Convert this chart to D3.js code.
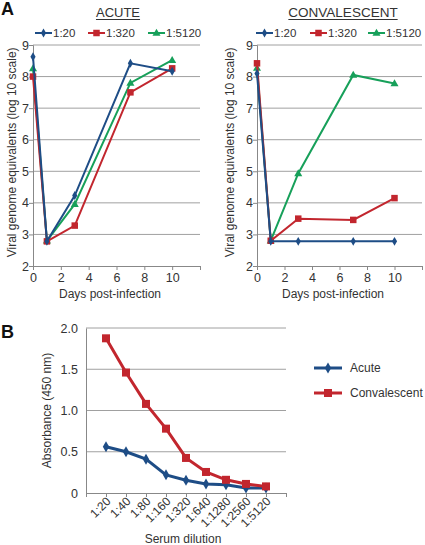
<!DOCTYPE html>
<html><head><meta charset="utf-8">
<script src="https://cdn.jsdelivr.net/npm/d3@7"></script>
<style>body{margin:0;background:#fff}svg{font-family:"Liberation Sans",Arial,sans-serif}</style>
</head><body>
<svg id="c" width="425" height="545"></svg>
<script>
const days = [0, 1, 3, 7, 10];
const dilutionsA = ["1:20", "1:320", "1:5120"];
const acute20 = [8.63, 2.78, 4.23, 8.42, 8.17];
const acute320 = [8.0, 2.78, 3.28, 7.5, 8.26];
const acute5120 = [8.26, 2.8, 3.96, 7.8, 8.52];
const conv20 = [8.1, 2.78, 2.78, 2.78, 2.78];
const conv320 = [8.42, 2.8, 3.5, 3.46, 4.15];
const conv5120 = [8.27, 2.8, 4.93, 8.05, 7.78];
const dayTicks = [0, 2, 4, 6, 8, 10, 12];
const dayTickLabels = ["0", "2", "4", "6", "8", "10", ""];
const logTicks = [2, 3, 4, 5, 6, 7, 8, 9];

const serumDilutions = ["1:20","1:40","1:80","1:160","1:320","1:640","1:1280","1:2560","1:5120"];
const absAcute = [0.56, 0.50, 0.41, 0.22, 0.155, 0.11, 0.10, 0.06, 0.06];
const absConv = [1.875, 1.46, 1.08, 0.78, 0.425, 0.255, 0.16, 0.11, 0.08];
const absTicks = [0, 0.5, 1.0, 1.5, 2.0];
const absTickLabels = ["0", "0.5", "1.0", "1.5", "2.0"];

const BLUE = "#1e4d86", RED = "#c2262e", GREEN = "#17a05a";
const GRID = "#a0a0a0", TXT = "#333";
const svg = d3.select("#c");

function marker(g, type, x, y, s, color) {
  if (type === "diamond") {
    g.append("path").attr("d", d3.symbol(d3.symbolDiamond, s * s * 0.55)()).attr("transform", `translate(${x},${y})`).attr("fill", color);
  } else if (type === "square") {
    g.append("rect").attr("x", x - s / 2).attr("y", y - s / 2).attr("width", s).attr("height", s).attr("fill", color);
  } else {
    g.append("path").attr("d", d3.symbol(d3.symbolTriangle, s * s * 0.5)()).attr("transform", `translate(${x},${y + 0.5})`).attr("fill", color);
  }
}

function panelA(cfg) {
  const x = d3.scaleLinear().domain([0, 12]).range([cfg.x0, cfg.x1]);
  const y = d3.scaleLinear().domain([2, 9]).range([266, 45]);
  const g = svg.append("g");
  g.selectAll("line.grid").data(logTicks.filter(d => d > 2)).join("line")
    .attr("x1", cfg.x0).attr("x2", cfg.x1).attr("y1", d => y(d)).attr("y2", d => y(d))
    .attr("stroke", GRID).attr("stroke-width", 1);
  const ya = g.append("g").attr("transform", `translate(${cfg.x0},0)`)
    .call(d3.axisLeft(y).tickValues(logTicks).tickSize(4).tickFormat(d3.format("d")));
  const xa = g.append("g").attr("transform", `translate(0,${y(2)})`)
    .call(d3.axisBottom(x).tickValues(dayTicks).tickSize(4).tickFormat((d, i) => dayTickLabels[i]));
  [ya, xa].forEach(a => {
    a.select(".domain").attr("stroke", "#888");
    a.selectAll(".tick line").attr("stroke", "#888");
    a.selectAll(".tick text").attr("fill", TXT).attr("font-size", 12.5);
  });
  ya.selectAll(".tick text").attr("x", -4);
  xa.selectAll(".tick text").attr("y", 7);
  g.append("text").attr("transform", `translate(${cfg.ylx},${y(5.6)}) rotate(-90)`)
    .attr("text-anchor", "middle").attr("dy", "0.35em").attr("font-size", 12).attr("fill", TXT)
    .text("Viral genome equivalents (log 10 scale)");
  g.append("text").attr("x", cfg.xlx).attr("y", 298).attr("text-anchor", "middle")
    .attr("font-size", 12).attr("fill", TXT).text("Days post-infection");
  const t = g.append("text").attr("x", cfg.tx).attr("y", 17).attr("text-anchor", "middle")
    .attr("font-size", cfg.tfs).attr("fill", TXT).text(cfg.title);
  const w = t.node().getComputedTextLength();
  g.append("line").attr("x1", cfg.tx - w / 2).attr("x2", cfg.tx + w / 2).attr("y1", 19.5).attr("y2", 19.5)
    .attr("stroke", TXT).attr("stroke-width", 1);
  const series = [
    {v: cfg.s[0], c: BLUE, m: "diamond", s: 6.5},
    {v: cfg.s[1], c: RED, m: "square", s: 6.5},
    {v: cfg.s[2], c: GREEN, m: "triangle", s: 7.5}
  ];
  const line = d3.line().x((d, i) => x(days[i])).y(d => y(d));
  cfg.order.forEach(k => {
    const s = series[k];
    g.append("path").attr("d", line(s.v)).attr("fill", "none").attr("stroke", s.c).attr("stroke-width", 2);
    s.v.forEach((v, i) => marker(g, s.m, x(days[i]), y(v), s.s, s.c));
  });
  series.forEach((s, i) => {
    const lx = cfg.leg[i];
    g.append("line").attr("x1", lx).attr("x2", lx + 17).attr("y1", 33).attr("y2", 33).attr("stroke", s.c).attr("stroke-width", 2);
    marker(g, s.m, lx + 8.5, 33, s.s, s.c);
    g.append("text").attr("x", lx + 18).attr("y", 33).attr("dy", "0.35em").attr("font-size", 11.5).attr("fill", TXT).text(dilutionsA[i]);
  });
}

panelA({x0: 33, x1: 200, ylx: 12, xlx: 110, tx: 118, title: "ACUTE", tfs: 13,
  s: [acute20, acute320, acute5120], order: [2, 1, 0], leg: [35, 88, 148]});
panelA({x0: 257, x1: 422, ylx: 230, xlx: 333, tx: 343, title: "CONVALESCENT", tfs: 13.5,
  s: [conv20, conv320, conv5120], order: [2, 1, 0], leg: [256, 310, 368]});

svg.append("text").attr("x", 1).attr("y", 15).attr("font-size", 18).attr("font-weight", "bold").attr("fill", "#111").text("A");
svg.append("text").attr("x", 1).attr("y", 338).attr("font-size", 18).attr("font-weight", "bold").attr("fill", "#111").text("B");

(function () {
  const x = d3.scaleLinear().domain([0, serumDilutions.length + 1]).range([86, 286]);
  const y = d3.scaleLinear().domain([0, 2]).range([493, 328]);
  const g = svg.append("g");
  g.selectAll("line.grid").data(absTicks.filter(d => d > 0)).join("line")
    .attr("x1", 86).attr("x2", 286).attr("y1", d => y(d)).attr("y2", d => y(d))
    .attr("stroke", GRID).attr("stroke-width", 1);
  const ya = g.append("g").attr("transform", "translate(86,0)")
    .call(d3.axisLeft(y).tickValues(absTicks).tickSize(0).tickFormat((d, i) => absTickLabels[i]));
  ya.select(".domain").attr("stroke", "#888");
  ya.selectAll(".tick text").attr("fill", TXT).attr("font-size", 12.5).attr("x", -8);
  const idx = d3.range(serumDilutions.length + 2);
  const xa = g.append("g").attr("transform", `translate(0,${y(0)})`)
    .call(d3.axisBottom(x).tickValues(idx).tickSize(4).tickFormat(i => serumDilutions[i - 1] || ""));
  xa.select(".domain").attr("stroke", "#888");
  xa.selectAll(".tick line").attr("stroke", "#888");
  xa.selectAll(".tick text").attr("fill", TXT).attr("font-size", 12)
    .attr("text-anchor", "end").attr("dy", 0).attr("y", 0)
    .attr("transform", "translate(5,9) rotate(-45)");
  g.append("text").attr("transform", `translate(47,${y(1)}) rotate(-90)`)
    .attr("text-anchor", "middle").attr("dy", "0.35em").attr("font-size", 12).attr("fill", TXT)
    .text("Absorbance (450 nm)");
  g.append("text").attr("x", 183).attr("y", 543).attr("text-anchor", "middle")
    .attr("font-size", 12).attr("fill", TXT).text("Serum dilution");
  const line = d3.line().x((d, i) => x(i + 1)).y(d => y(d));
  const series = [
    {v: absAcute, c: BLUE, m: "diamond", s: 8, name: "Acute"},
    {v: absConv, c: RED, m: "square", s: 8, name: "Convalescent"}
  ];
  series.forEach(s => {
    g.append("path").attr("d", line(s.v)).attr("fill", "none").attr("stroke", s.c).attr("stroke-width", 3);
    s.v.forEach((v, i) => marker(g, s.m, x(i + 1), y(v), s.s, s.c));
  });
  series.forEach((s, i) => {
    const ly = 368 + i * 25;
    g.append("line").attr("x1", 314).attr("x2", 342).attr("y1", ly).attr("y2", ly).attr("stroke", s.c).attr("stroke-width", 3);
    marker(g, s.m, 328, ly, s.s, s.c);
    g.append("text").attr("x", 350).attr("y", ly).attr("dy", "0.35em").attr("font-size", 12).attr("fill", TXT).text(s.name);
  });
})();
</script>
</body></html>
